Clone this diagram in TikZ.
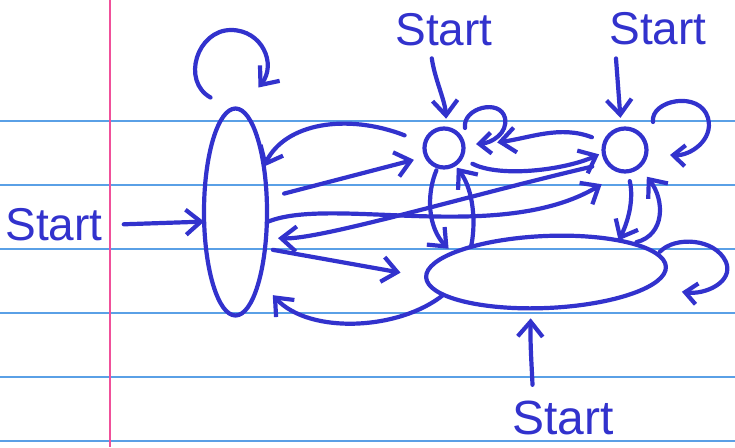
\documentclass[tikz,border=0pt]{standalone}
\usepackage{fontspec}
\setmainfont{Liberation Sans}
\usetikzlibrary{arrows.meta,shapes.geometric}
\definecolor{ink}{RGB}{50,50,205}
\definecolor{rulecol}{RGB}{90,160,230}
\definecolor{margincol}{RGB}{240,80,154}
\begin{document}
\begin{tikzpicture}[x=1pt,y=-1pt,
  pen/.style={draw=ink, line width=4.2pt, line cap=round, line join=round},
  arr/.style={pen, -{Straight Barb[length=15pt,width=25pt]}},
  arrs/.style={pen, -{Straight Barb[length=12pt,width=21pt]}},
  statebox/.style={pen, inner sep=0pt, outer sep=0pt},
  lbl/.style={text=ink, inner sep=0pt, font=\fontsize{46}{46}\selectfont},
]
\fill[white] (0,0) rectangle (735,447);
\useasboundingbox (0,0) rectangle (735,447);
\foreach \yy in {121,185,249,313,377,441}
  \draw[rulecol, line width=1.3pt] (0,\yy) -- (735,\yy);
\draw[margincol, line width=1.7pt] (110,0) -- (110,447);

% states
\node[statebox, ellipse, minimum width=63pt, minimum height=207pt] (T) at (235.5,212) {};
\node[statebox, circle, minimum size=39pt] (C1) at (444,148) {};
\node[statebox, circle, minimum size=43pt] (C2) at (625,150) {};
\node[statebox, ellipse, minimum width=240pt, minimum height=72pt, rotate=2.5] (B) at (546,272) {};

% labels
\node[lbl] (SL) at (54,225) {Start};
\node[lbl] (ST1) at (444,30) {Start};
\node[lbl] (ST2) at (658,29) {Start};
\node[lbl, font=\fontsize{48}{48}\selectfont] (ST3) at (563,418) {Start};

% start arrows
\draw[arr, shorten <=21pt] (SL.east) -- (T.197);
\draw[arr, shorten <=12pt, shorten >=10pt] ([xshift=-14pt]ST1.south) .. controls (435,80) and (445,100) .. (C1.82);
\draw[arr, shorten <=13pt, shorten >=11pt] ([xshift=-43pt]ST2.south) -- (C2.100);
\draw[arr, shorten <=16pt, shorten >=10pt] ([xshift=-30pt]ST3.north) .. controls (532,370) and (530,345) .. (B.245);

% self loops
\coordinate (lt1) at ([shift={(-25,-11)}]T.north);
\coordinate (lt2) at ([shift={(23,-21)}]T.north);
\draw[arr] (lt1) .. controls (181,81) and (197,30) .. (231,30) .. controls (262,30) and (277,64) .. (lt2);
\coordinate (lc1a) at ([shift={(21,-20)}]C1.center);
\coordinate (lc1b) at ([shift={(32,-4)}]C1.center);
\draw[arrs] (lc1a) .. controls (462,108) and (500,98) .. (505,118) .. controls (508,133) and (492,143) .. (lc1b);
\coordinate (lc2a) at ([shift={(28,-28)}]C2.center);
\coordinate (lc2b) at ([shift={(45,5)}]C2.center);
\draw[arrs] (lc2a) .. controls (650,100) and (700,90) .. (708,118) .. controls (714,140) and (690,156) .. (lc2b);
\coordinate (lba) at ([shift={(-6,-15)}]B.east);
\coordinate (lbb) at ([shift={(16,25)}]B.east);
\draw[arrs] (lba) .. controls (675,236) and (715,238) .. (726,262) .. controls (734,282) and (705,295) .. (lbb);

% transitions between T and C1
\draw[arr, shorten <=22pt] (C1.166) .. controls (347,113) and (285,123) .. (T.58);
\draw[arr, shorten <=18pt, shorten >=13pt] (T.24) -- (C1.206);
% T and C2
\draw[arr, shorten >=25pt] (T.342) .. controls (330,195) and (500,245) .. (C2.265);
\draw[arr, shorten <=16pt, shorten >=12pt] (C2.217) .. controls (470,195) and (320,240) .. (T.320);
% C1 and C2
\draw[arr, shorten <=13pt, shorten >=5pt] (C1.330) .. controls (500,178) and (565,170) .. (C2.186);
\draw[arr, shorten <=14pt, shorten >=34pt] (C2.159) .. controls (560,125) and (530,138) .. (C1.3);
% C1 and B
\draw[arr, shorten <=4pt, shorten >=6pt] (C1.252) .. controls (426,195) and (428,228) .. (B.166);
\draw[arr, shorten >=4pt] (B.159) .. controls (476,225) and (474,190) .. (C1.302);
% C2 and B
\draw[arr, shorten <=10pt] (C2.277) .. controls (634,200) and (628,222) .. (B.21);
\draw[arr, shorten <=5pt, shorten >=13pt] (B.16) .. controls (665,235) and (665,200) .. (C2.310);
% T and B
\draw[arr, shorten <=8pt, shorten >=26pt] (T.309) -- (B.west);
\draw[arr, shorten >=20pt] (B.190) .. controls (400,330) and (310,335) .. (T.289);
\end{tikzpicture}
\end{document}
